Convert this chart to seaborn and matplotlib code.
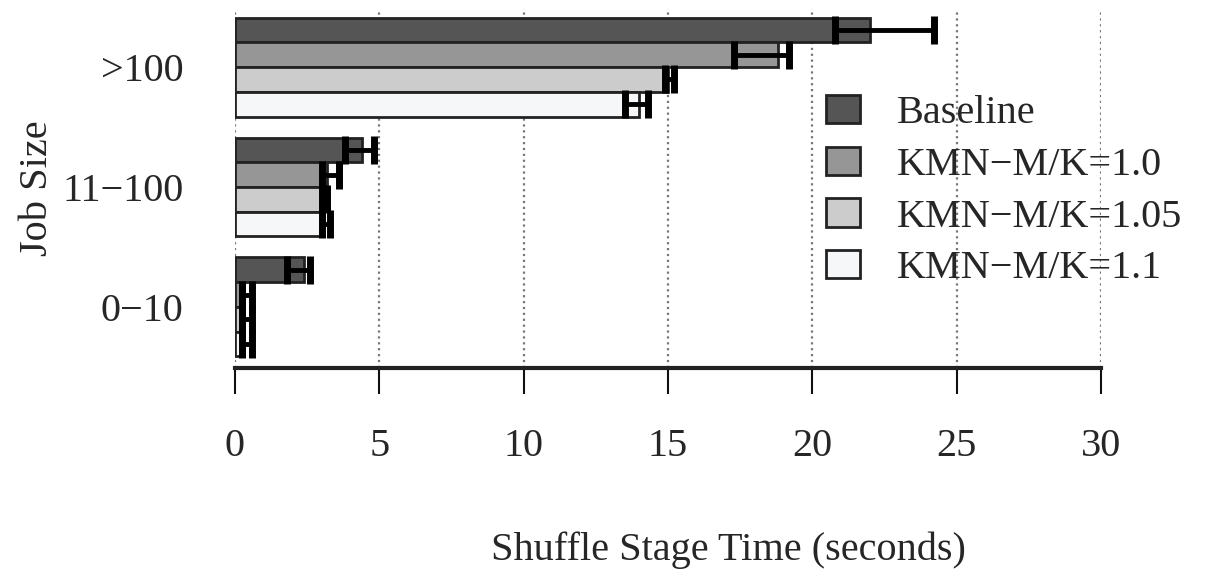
import pandas as pd
import numpy as np
import matplotlib
matplotlib.use("Agg")
import matplotlib.pyplot as plt
import seaborn as sns

# -----------------------------
# DATA
# -----------------------------
groups = [">100", "11\u2212100", "0\u221210"]
series = ["Baseline", "KMN\u2212M/K=1.0", "KMN\u2212M/K=1.05", "KMN\u2212M/K=1.1"]

baseline = [22.0, 4.4, 2.4]
kmn_10 = [18.8, 3.2, 0.3]
kmn_105 = [15.0, 3.1, 0.3]
kmn_11 = [14.0, 3.1, 0.3]

# asymmetric error bars: distance below / above the mean
err_lo = [[1.2, 0.6, 0.6], [1.5, 0.2, 0.05], [0.1, 0.1, 0.05], [0.5, 0.1, 0.05]]
err_hi = [[2.2, 0.4, 0.2], [0.4, 0.4, 0.3], [0.2, 0.1, 0.3], [0.3, 0.2, 0.3]]

colors = ["#555555", "#969696", "#cccccc", "#f6f7f9"]

values = [baseline, kmn_10, kmn_105, kmn_11]
df = pd.DataFrame({
    "group": groups * len(series),
    "series": [s for s in series for _ in groups],
    "time": [v for vals in values for v in vals],
})

# -----------------------------
# STYLE
# -----------------------------
sns.set_theme(style="white")
plt.rcParams["font.family"] = ["Liberation Serif", "DejaVu Serif"]
FS = 29

fig = plt.figure(figsize=(12.05, 5.71), dpi=100)
ax = fig.add_axes([0.195, 0.3555, 0.7187, 0.6235])

sns.barplot(data=df, x="time", y="group", hue="series", order=groups,
            hue_order=series, palette=colors, orient="h", width=0.825,
            edgecolor="#222222", linewidth=2, errorbar=None, legend=False,
            saturation=1, ax=ax)

# error bars on each bar
bar_conts = list(ax.containers)
for i, cont in enumerate(bar_conts):
    ys = [p.get_y() + p.get_height() / 2 for p in cont.patches]
    ax.errorbar(values[i], ys, xerr=[err_lo[i], err_hi[i]], fmt="none",
                ecolor="black", elinewidth=3.5, capsize=10, capthick=5,
                zorder=5)

ax.set_xlim(0, 30)
ax.set_ylim(2.51, -0.46)
ax.set_xticks([0, 5, 10, 15, 20, 25, 30])

ax.grid(axis="x", linestyle=":", color="#777777", linewidth=1.6)
ax.grid(axis="y", visible=False)
ax.set_axisbelow(True)

for s in ["top", "right", "left"]:
    ax.spines[s].set_visible(False)
ax.spines["bottom"].set_linewidth(3)
ax.spines["bottom"].set_color("#222222")

ax.tick_params(axis="x", direction="out", length=19, width=1.5,
               color="#111111", pad=24, labelsize=FS, bottom=True)
ax.tick_params(axis="y", length=0, pad=37, labelsize=FS)

ax.set_xlabel("Shuffle Stage Time (seconds)", fontsize=FS)
ax.xaxis.set_label_coords(0.570, -0.46)
ax.set_ylabel("Job Size", fontsize=FS)
ax.yaxis.set_label_coords(-0.207, 0.506)

# legend
handles = [plt.Rectangle((0, 0), 1, 1, facecolor=c, edgecolor="#222222",
                         linewidth=2) for c in colors]
fig.legend(handles, series, loc="upper left",
           bbox_to_anchor=(826 / 1205, 1 - 95 / 571), frameon=False,
           fontsize=FS, handlelength=0.85, handleheight=0.7,
           handletextpad=0.92, labelspacing=0.36, borderpad=0,
           borderaxespad=0)

fig.savefig("out.png", dpi=100)
